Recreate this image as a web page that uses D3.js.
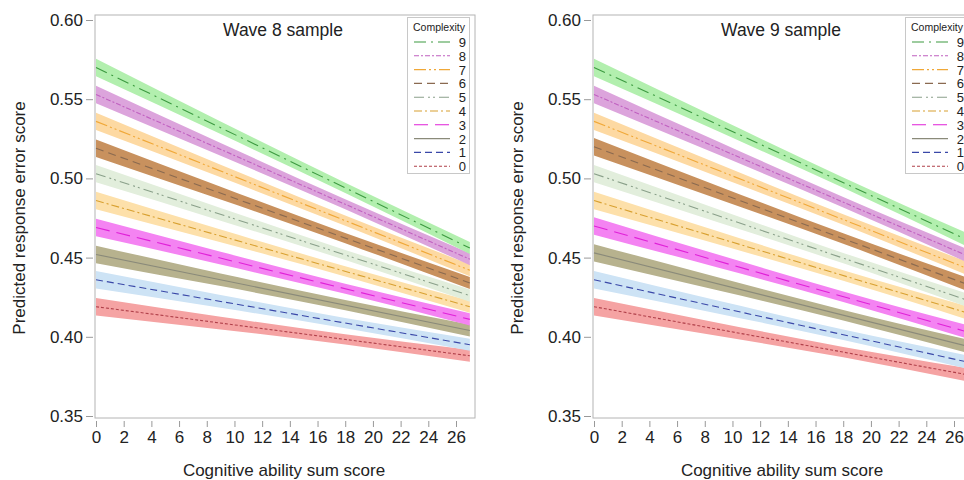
<!DOCTYPE html>
<html>
<head>
<meta charset="utf-8">
<script src="https://cdn.jsdelivr.net/npm/d3@7"></script>
<style>
  html, body { margin: 0; padding: 0; background: #fff; }
  svg text { font-family: "Liberation Sans", Arial, sans-serif; fill: #222; }
</style>
</head>
<body>
<div id="chart"></div>
<script>
// complexity levels, top of legend first
const complexity = [9, 8, 7, 6, 5, 4, 3, 2, 1, 0];

// predicted score at cognitive score 0 and 27, by complexity 0..9
const wave8Start = [0.419, 0.436, 0.452, 0.469, 0.486, 0.503, 0.519, 0.536, 0.553, 0.570];
const wave8End   = [0.388, 0.395, 0.404, 0.411, 0.419, 0.426, 0.434, 0.442, 0.449, 0.456];
const wave9Start = [0.419, 0.436, 0.453, 0.470, 0.486, 0.503, 0.520, 0.536, 0.553, 0.570];
const wave9End   = [0.376, 0.384, 0.394, 0.403, 0.415, 0.423, 0.433, 0.443, 0.451, 0.461];

// confidence band half width at a few x positions
const bandX = [0, 9, 18, 27];
const wave8Half = [0.0055, 0.0040, 0.0032, 0.0038];
const wave9Half = [0.0055, 0.0041, 0.0033, 0.0042];

const xTicks = d3.range(0, 27, 2);
const yTicks = [0.35, 0.40, 0.45, 0.50, 0.55, 0.60];

const panels = [
    { title: 'Wave 8 sample', start: wave8Start, end: wave8End, half: wave8Half, offset: 0 },
    { title: 'Wave 9 sample', start: wave9Start, end: wave9End, half: wave9Half, offset: 498 }
];

// styles per complexity 0..9
const lineColors = ['#b0404a', '#3a48a8', '#8a8a7a', '#e020d8', '#d8a030', '#8aa08a', '#8a6a50', '#f0a838', '#c060c0', '#3c9a40'];
const bandColors = ['#f5a3a3', '#cde3f5', '#b7b28e', '#f483f2', '#fde0aa', '#e2eedc', '#c8915e', '#fdd9a2', '#dca4dc', '#b2efae'];
const dashes = ['3,2', '7,4', null, '14,7', '8,3,2,3', '10,4,2,3,2,4', '8,5', '12,3,2,3,2,3', '5,2,2,2', '12,5,2,5'];

const W = 964, H = 480;
const frame = { left: 95, right: 475, top: 15, bottom: 418 };

const svg = d3.select('#chart').append('svg')
    .attr('width', W)
    .attr('height', H);

panels.forEach(p => drawPanel(p));

function drawPanel(p) {
    const g = svg.append('g').attr('transform', `translate(${p.offset},0)`);

    const x = d3.scaleLinear().domain([0, 26]).range([96, 456]);
    const y = d3.scaleLinear().domain([0.35, 0.60]).range([416, 20]);

    // frame
    g.append('rect')
        .attr('x', frame.left).attr('y', frame.top)
        .attr('width', frame.right - frame.left)
        .attr('height', frame.bottom - frame.top)
        .attr('fill', 'none')
        .attr('stroke', '#b4b4b4');

    // y axis
    const yAxis = g.append('g')
        .attr('transform', `translate(${frame.left - 2},0)`)
        .call(d3.axisLeft(y).tickValues(yTicks).tickFormat(d3.format('.2f')).tickSize(7).tickPadding(3));
    yAxis.select('.domain').remove();
    yAxis.selectAll('line').attr('stroke', '#999');
    yAxis.selectAll('text').style('font-size', '17px').attr('fill', '#222');

    // x axis
    const xAxis = g.append('g')
        .attr('transform', `translate(0,${frame.bottom + 3})`)
        .call(d3.axisBottom(x).tickValues(xTicks).tickFormat(d3.format('d')).tickSize(6).tickPadding(4));
    xAxis.select('.domain').remove();
    xAxis.selectAll('line').attr('stroke', '#999');
    xAxis.selectAll('text').style('font-size', '17px').attr('fill', '#222');

    // axis titles
    g.append('text')
        .attr('x', (frame.left + frame.right) / 2 - 1)
        .attr('y', 476)
        .attr('text-anchor', 'middle')
        .style('font-size', '17px')
        .text('Cognitive ability sum score');

    g.append('text')
        .attr('transform', `translate(25,${218}) rotate(-90)`)
        .attr('text-anchor', 'middle')
        .style('font-size', '17px')
        .text('Predicted response error score');

    // title
    g.append('text')
        .attr('x', (frame.left + frame.right) / 2 - 2)
        .attr('y', 36)
        .attr('text-anchor', 'middle')
        .style('font-size', '17.5px')
        .text(p.title);

    const levels = d3.range(10);
    const at = (i, xv) => p.start[i] + (p.end[i] - p.start[i]) * xv / 27;

    // bands
    const area = d3.area()
        .x(d => x(d.x))
        .y0(d => y(d.lo))
        .y1(d => y(d.hi))
        .curve(d3.curveMonotoneX);

    g.append('g').selectAll('path')
        .data(levels)
        .join('path')
        .attr('d', i => area(bandX.map((bx, k) => ({
            x: bx,
            lo: at(i, bx) - p.half[k],
            hi: at(i, bx) + p.half[k]
        }))))
        .attr('fill', i => bandColors[i]);

    // fitted lines
    const line = d3.line().x(d => x(d[0])).y(d => y(d[1]));
    g.append('g').selectAll('path')
        .data(levels)
        .join('path')
        .attr('d', i => line([[0, p.start[i]], [27, p.end[i]]]))
        .attr('fill', 'none')
        .attr('stroke', i => lineColors[i])
        .attr('stroke-width', 1.1)
        .attr('stroke-dasharray', i => dashes[i]);

    // legend
    const lg = g.append('g');
    lg.append('rect')
        .attr('x', 407.5).attr('y', 17.5)
        .attr('width', 62).attr('height', 156)
        .attr('fill', '#fff')
        .attr('stroke', '#c8c8c8');
    lg.append('text')
        .attr('x', 439).attr('y', 31)
        .attr('text-anchor', 'middle')
        .style('font-size', '10.5px')
        .text('Complexity');
    const rows = lg.selectAll('g.row')
        .data(complexity)
        .join('g')
        .attr('class', 'row')
        .attr('transform', (d, k) => `translate(0,${42 + k * 13.8})`);
    rows.append('line')
        .attr('x1', 414).attr('x2', 450)
        .attr('stroke', d => lineColors[d])
        .attr('stroke-width', 1.1)
        .attr('stroke-dasharray', d => dashes[d]);
    rows.append('text')
        .attr('x', 466).attr('y', 5)
        .attr('text-anchor', 'end')
        .style('font-size', '13px')
        .attr('fill', '#333')
        .text(d => d);
}
</script>
</body>
</html>
